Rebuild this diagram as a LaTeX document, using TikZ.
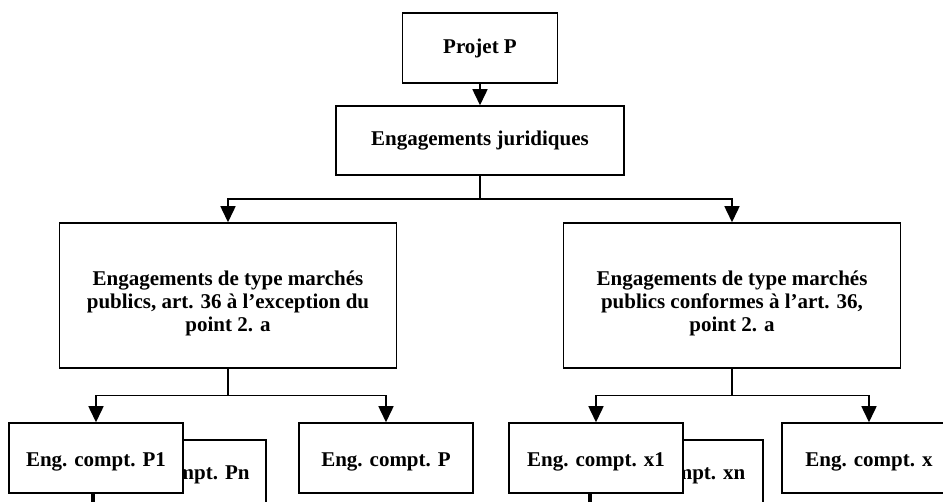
\documentclass[tikz,border=0pt]{standalone}
\usepackage{fontspec}
\setmainfont{Liberation Serif}
\usepackage{tikz}
\usetikzlibrary{
    positioning,                      % right=of, below=of, etc.
    arrows.meta                       % pointes (Triangle, Stealth, etc.)
}
\tikzset{
    block/.style={
        rectangle, draw, line width=1.5pt, fill=white,
        align=center, inner sep=0pt,
        font=\bfseries\fontsize{21}{23}\selectfont
    },
    compte/.style={
        block, minimum width=174pt, minimum height=70pt
    },
    arrow/.style={
        -{Triangle[length=16pt,width=15pt]}, line width=1.5pt
    },
    link/.style={
        line width=1.5pt
    }
}

\begin{document}
\begin{tikzpicture}[x=1pt, y=-1pt]

        \clip (0,0) rectangle (943,502);

        % Niveau haut
        \node[block, minimum width=155pt, minimum height=70pt] (proj) at (480,48) {Projet P};
        \node[block, minimum width=288pt, minimum height=69pt] (jur) at (480,140.5) {Engagements juridiques};

        % Deux types d'engagements
        \node[block, minimum width=337pt, minimum height=145pt] (mpa) at (228,295.5)
            {\rule{0pt}{30pt}Engagements de type marchés\\publics, art. 36 à l’exception du\\point 2. a};
        \node[block, minimum width=337pt, minimum height=145pt] (mpb) at (732,295.5)
            {\rule{0pt}{30pt}Engagements de type marchés\\publics conformes à l’art. 36,\\point 2. a};

        % Engagements comptables (les boites empilees d'abord)
        \node[compte] (pn) at (179,475) {Eng. compt. Pn};
        \node[compte] (p1) at (96,458) {\rule{0pt}{22pt}Eng. compt. P1};
        \node[compte] (pp) at (386,458) {\rule{0pt}{22pt}Eng. compt. P};

        \node[compte] (xn) at (676,475) {Eng. compt. xn};
        \node[compte] (x1) at (596,458) {\rule{0pt}{22pt}Eng. compt. x1};
        \node[compte] (xx) at (869,458) {\rule{0pt}{22pt}Eng. compt. x};

        % Fleches
        \coordinate (fork) at (480,199);
        \draw[arrow] (proj) -- (jur);
        \draw[link] (jur.south) -- (fork);
        \draw[arrow] (fork) -| (mpa.north);
        \draw[arrow] (fork) -| (mpb.north);

        \draw[arrow] (mpa.south) -- ++(0,27) -| (p1.north);
        \draw[arrow] (mpa.south) -- ++(0,27) -| (pp.north);
        \draw[arrow] (mpb.south) -- ++(0,27) -| (x1.north);
        \draw[arrow] (mpb.south) -- ++(0,27) -| (xx.north);

        % Suite vers le bas
        \coordinate (p1end) at (94,510);
        \coordinate (x1end) at (591,510);
        \draw[link] ([xshift=-2pt]p1.south) -- (p1end);
        \draw[link] ([xshift=-5pt]x1.south) -- (x1end);

    \end{tikzpicture}
\end{document}
